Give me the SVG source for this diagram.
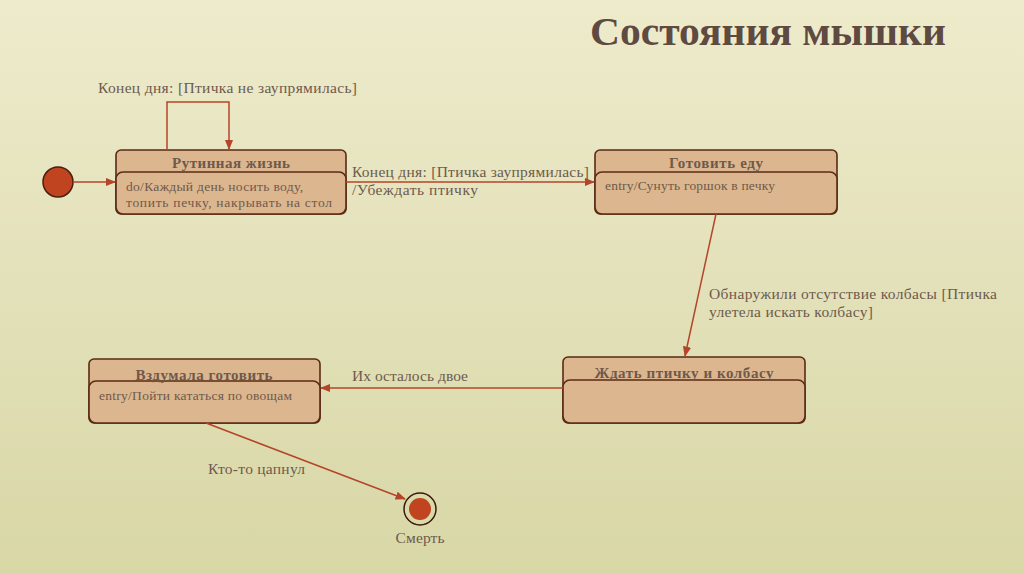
<svg xmlns="http://www.w3.org/2000/svg" width="1024" height="574" viewBox="0 0 1024 574">
<defs>
<linearGradient id="bg" x1="0" y1="0" x2="0" y2="1"><stop offset="0" stop-color="#eeebcc"/><stop offset="1" stop-color="#d8d7a6"/></linearGradient>
<marker id="ar" viewBox="0 0 10 10" refX="9" refY="5" markerWidth="7" markerHeight="7" orient="auto"><path d="M0,1 L10,5 L0,9 z" fill="#b5452a"/></marker>
<style>
.box{fill:#dcb68e;stroke:#5a2a14;stroke-width:1.6}
.t{font-family:"Liberation Serif","DejaVu Serif",serif;fill:#6e5a4c}
.h{font-weight:bold;font-size:15px;text-anchor:middle}
.s{font-size:13.5px}
.l{font-size:15.5px}
.c{stroke:#b5452a;stroke-width:1.5;fill:none;marker-end:url(#ar)}
</style>
</defs>
<rect width="1024" height="574" fill="url(#bg)"/>
<text x="768" y="45" text-anchor="middle" class="t" style="font-size:41px;font-weight:bold;fill:#5f4a42" textLength="356" lengthAdjust="spacingAndGlyphs">Состояния мышки</text>
<g id="start"><circle cx="58" cy="182" r="15" fill="#c0441f" stroke="#4a1e0c" stroke-width="1.5"/></g>
<g id="n1"><rect class="box" x="116" y="150" width="230" height="64" rx="5"/><rect class="box" x="116" y="172" width="230" height="42" rx="7"/>
<text class="t h" x="231" y="168" textLength="118">Рутинная жизнь</text>
<text class="t s" x="126" y="191" textLength="177">do/Каждый день носить воду,</text><text class="t s" x="126" y="207" textLength="206">топить печку, накрывать на стол</text></g>
<g id="n2"><rect class="box" x="595" y="150" width="242" height="64" rx="5"/><rect class="box" x="595" y="172" width="242" height="42" rx="7"/>
<text class="t h" x="716" y="168" textLength="94">Готовить еду</text><text class="t s" x="605" y="190" textLength="170">entry/Сунуть горшок в печку</text></g>
<g id="n3"><rect class="box" x="563" y="357" width="242" height="66" rx="5"/><rect class="box" x="563" y="380" width="242" height="43" rx="7"/>
<text class="t h" x="684" y="378" textLength="179">Ждать птичку и колбасу</text></g>
<g id="n4"><rect class="box" x="89" y="359" width="231" height="64" rx="5"/><rect class="box" x="89" y="381" width="231" height="42" rx="7"/>
<text class="t h" x="204" y="380" textLength="137">Вздумала готовить</text><text class="t s" x="99" y="400" textLength="193">entry/Пойти кататься по овощам</text></g>
<g id="end"><circle cx="420" cy="509" r="16" fill="none" stroke="#3a1a0a" stroke-width="1.5"/><circle cx="420" cy="509" r="11" fill="#c0441f"/>
<text class="t l" x="420" y="543" text-anchor="middle" textLength="49">Смерть</text></g>
<g id="connectors">
<path class="c" d="M73,182 H115"/>
<path class="c" d="M167,150 V102 H229 V149"/>
<path class="c" d="M346,182 H594"/>
<path class="c" d="M716,214 L685,356"/>
<path class="c" d="M563,388 H321"/>
<path class="c" d="M206,423 L405,499"/>
</g>
<g id="labels">
<text class="t l" x="98" y="93" textLength="259">Конец дня: [Птичка не заупрямилась]</text>
<text class="t l" x="352" y="177" textLength="237">Конец дня: [Птичка заупрямилась]</text>
<text class="t l" x="352" y="195" textLength="126">/Убеждать птичку</text>
<text class="t l" x="709" y="299" textLength="288">Обнаружили отсутствие колбасы [Птичка</text>
<text class="t l" x="709" y="317" textLength="164">улетела искать колбасу]</text>
<text class="t l" x="352" y="381" textLength="116">Их осталось двое</text>
<text class="t l" x="208" y="474" textLength="97">Кто-то цапнул</text>
</g>
</svg>
